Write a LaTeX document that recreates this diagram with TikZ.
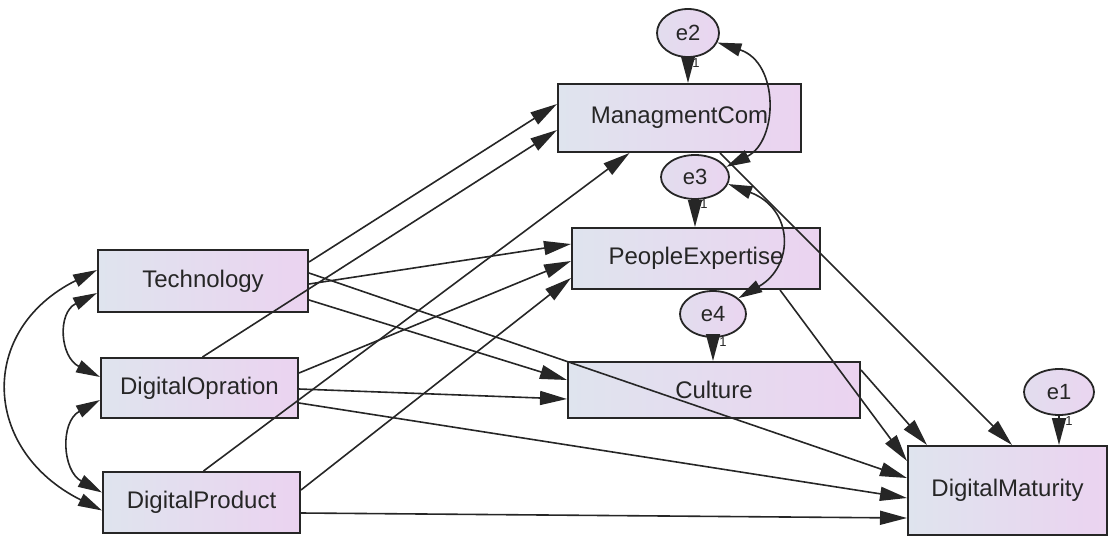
\documentclass[tikz,border=0pt]{standalone}
\usepackage{fontspec}
\setmainfont{Liberation Sans}
\usetikzlibrary{arrows.meta,calc,shapes.geometric}
\definecolor{boxleft}{HTML}{DFE4EE}
\definecolor{boxright}{HTML}{EBD3F0}
\definecolor{errleft}{HTML}{E2DDEE}
\definecolor{errright}{HTML}{EAD5F0}
\definecolor{inkc}{HTML}{262626}
\begin{document}
\begin{tikzpicture}[x=1pt,y=-1pt,
  var/.style={draw=inkc, line width=2pt, left color=boxleft, right color=boxright,
    inner sep=0pt, font=\fontsize{24}{24}\selectfont, text=inkc},
  err/.style={ellipse, draw=inkc, line width=1.8pt, left color=errleft, right color=errright,
    inner sep=0pt, font=\fontsize{22}{22}\selectfont, text=inkc},
  reg/.style={draw=inkc, line width=1.6pt, -{Triangle[length=27pt,width=14pt]}},
  covar/.style={draw=inkc, line width=1.6pt,
    {Triangle[length=24pt,width=13pt]}-{Triangle[length=24pt,width=13pt]}},
  one/.style={font=\fontsize{13}{13}\selectfont, text=inkc, inner sep=0pt}]
\useasboundingbox (0,0) rectangle (1109,536);

% observed variables
\node[var, minimum width=210pt, minimum height=62pt] (tech)  at (203,281)    {Technology};
\node[var, minimum width=197pt, minimum height=60pt] (dop)   at (199.5,388)  {DigitalOpration};
\node[var, minimum width=197pt, minimum height=61pt] (dprod) at (201.5,502.5){DigitalProduct};
\node[var, minimum width=243pt, minimum height=68pt] (mc)    at (679.5,118)  {ManagmentCom};
\node[var, minimum width=248pt, minimum height=61pt] (pe)    at (696,258.5)  {PeopleExpertise};
\node[var, minimum width=292pt, minimum height=56pt] (cul)   at (714,390)    {Culture};
\node[var, minimum width=199pt, minimum height=89pt] (dm)    at (1007.5,490.5){DigitalMaturity};

% error terms
\node[err, minimum width=62pt, minimum height=48pt] (e2) at (688,33)  {e2};
\node[err, minimum width=68pt, minimum height=44pt] (e3) at (695,177) {e3};
\node[err, minimum width=66pt, minimum height=46pt] (e4) at (713,314) {e4};
\node[err, minimum width=70pt, minimum height=46pt] (e1) at (1059,392){e1};

% regression paths
\draw[reg] ($(tech.east)+(0,-19)$)  -- ($(mc.west)+(0,-14)$);
\draw[reg] ($(dop.north)+(3,0)$)    -- ($(mc.west)+(0,12)$);
\draw[reg] ($(dprod.north)+(2,0)$)  -- ($(mc.south)+(-50,0)$);
\draw[reg] ($(tech.east)+(0,3)$)    -- ($(pe.west)+(0,-14.5)$);
\draw[reg] ($(dop.east)+(0,-15)$)   -- ($(pe.west)+(0,2.5)$);
\draw[reg] ($(dprod.east)+(0,-12.5)$) -- ($(pe.west)+(0,19.5)$);
\draw[reg] ($(tech.east)+(0,19)$)   -- ($(cul.west)+(0,-10)$);
\draw[reg] ($(dop.east)+(0,1)$)     -- ($(cul.west)+(0,9)$);
\draw[reg] ($(tech.east)+(0,-8)$)   -- ($(dm.west)+(0,-12.5)$);
\draw[reg] ($(dop.east)+(0,15)$)    -- ($(dm.west)+(0,7.5)$);
\draw[reg] ($(dprod.east)+(0,10.5)$) -- ($(dm.west)+(0,27.5)$);
\draw[reg] ($(pe.south)+(84,0)$)    -- ($(dm.north west)+(0,16)$);
\draw[reg] ($(cul.east)+(0,-20)$)   -- ($(dm.north west)+(20,0)$);
\draw[reg] ($(mc.south)+(40.5,0)$)  -- ($(dm.north)+(4.5,0)$);

% error paths with fixed weights
\draw[reg] (e2.south) -- (e2.south |- mc.north);
\draw[reg] (e3.south) -- (e3.south |- pe.north);
\draw[reg] (e4.south) -- (e4.south |- cul.north);
\draw[reg] (e1.south) -- (e1.south |- dm.north);
\node[one] (w2) at ($(e2.south)+(8,5)$) {1};
\node[one] (w3) at ($(e3.south)+(9,4)$) {1};
\node[one] (w4) at ($(e4.south)+(10,4)$) {1};
\node[one] (w1) at ($(e1.south)+(10,5)$) {1};

% covariances among the exogenous variables
\draw[covar] ($(tech.west)+(0,12)$) .. controls +(-40,20) and +(-40,-20) .. ($(dop.west)+(0,-11)$);
\draw[covar] ($(dop.west)+(0,12)$) .. controls +(-40,22) and +(-40,-22) .. ($(dprod.west)+(0,-10)$);
\draw[covar] ($(tech.west)+(0,-11)$) .. controls +(-120,60) and +(-120,-60) .. ($(dprod.west)+(0,8)$);

% covariances among the error terms
\draw[covar] (e2.-18) .. controls +(62,20) and +(52,-26) .. (e3.18);
\draw[covar] (e3.-12) .. controls +(66,25) and +(56,-32) .. (e4.32);
\end{tikzpicture}
\end{document}
